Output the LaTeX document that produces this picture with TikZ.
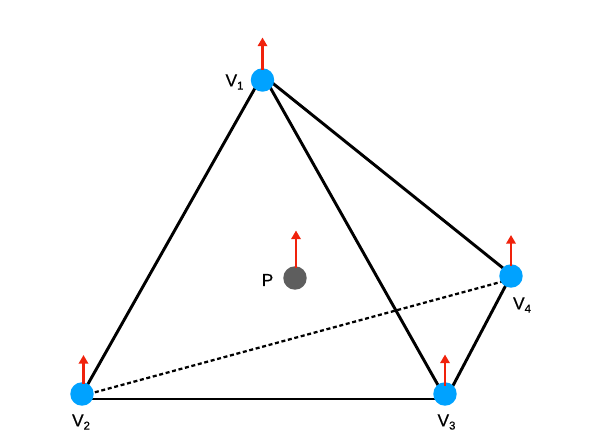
\documentclass[tikz,border=0pt]{standalone}
\usepackage{fontspec}
\setmainfont{Liberation Sans}
\newfontfamily\labfont[RawFeature={embolden=0.6}]{Liberation Sans}
\usetikzlibrary{arrows.meta,calc,backgrounds}
\definecolor{vblue}{HTML}{00A2FF}
\definecolor{vred}{HTML}{F0220C}
\definecolor{vgrey}{HTML}{5E5E5E}
\tikzset{
  vertex/.style={circle,fill=vblue,minimum size=17.6pt,inner sep=0pt,outer sep=0pt},
  pointdot/.style={circle,fill=vgrey,minimum size=17.6pt,inner sep=0pt,outer sep=0pt},
  edge/.style={black,line width=2.2pt},
  hidden/.style={black,line width=1.7pt,dash pattern=on 3pt off 2pt},
  normal/.style={vred,line width=1.7pt,-{Triangle[length=6.5pt,width=7pt]}},
  lab/.style={font=\labfont\fontsize{13}{13}\selectfont,inner sep=0pt,text=black}
}
\newcommand{\vsub}[1]{V\raisebox{-2.4pt}{\fontsize{8.5}{8.5}\selectfont #1}}
\begin{document}
\begin{tikzpicture}[x=0.75pt,y=-0.75pt]
\useasboundingbox (0,0) rectangle (593,445);
\node[vertex] (v1) at (262.5,80) {};
\node[vertex] (v2) at (82,394) {};
\node[vertex] (v3) at (445,394) {};
\node[vertex] (v4) at (511,276) {};
\node[pointdot] (p) at (295,278) {};
\coordinate (t1) at (262.5,37.5);
\coordinate (t2) at (83.5,355);
\coordinate (t3) at (445,354.5);
\coordinate (t4) at (511,235);
\coordinate (tp) at (296,230.5);
\begin{scope}[on background layer]
\draw[edge] ($(v1)+(-2.9,0)$) -- ($(v2)+(0.3,0)$);
\draw[edge] ($(v1)+(3.5,0)$) -- ($(v3)+(-2,0)$);
\draw[edge] ($(v1)+(0,-5)$) -- ($(v4)+(0,-1.5)$);
\draw[edge] ($(v2)+(0,5)$) -- ($(v3)+(0,5)$);
\draw[edge] ($(v3)+(3.6,0)$) -- ($(v4)+(-0.3,0)$);
\draw[hidden] ($(v2)+(0,1.8)$) -- ($(v4)+(0,3.2)$);
\end{scope}
\draw[normal] ($(v1)+(0,-10)$) -- (t1);
\draw[normal] ($(v2)+(1.5,-10)$) -- (t2);
\draw[normal] ($(v3)+(0,-8)$) -- (t3);
\draw[normal] ($(v4)+(0,-10)$) -- (t4);
\draw[normal] ($(p)+(1,-10)$) -- (tp);
\node[lab] (l1) at (234.5,82) {\vsub{1}};
\node[lab] (l2) at (81,422) {\vsub{2}};
\node[lab] (l3) at (446.5,422) {\vsub{3}};
\node[lab] (l4) at (522,305) {\vsub{4}};
\node[lab] (lp) at (267.5,280) {P};
\end{tikzpicture}
\end{document}
